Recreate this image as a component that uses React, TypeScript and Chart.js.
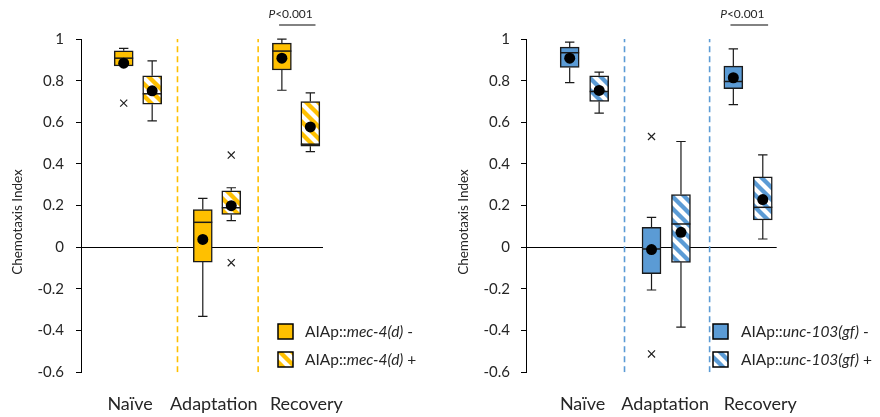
import { useEffect, useRef } from 'react';
import { Chart, registerables } from 'chart.js';

Chart.register(...registerables);

// ---------- data ----------
const categories = ['Naïve', 'Adaptation', 'Recovery'];
const yTicks = [-0.6, -0.4, -0.2, 0, 0.2, 0.4, 0.6, 0.8, 1];
const yTitle = 'Chemotaxis Index';
const pLabel = 'P<0.001';

// each row: [min, q1, median, q3, max] per category
const mecMinusStats = [
  [0.871, 0.871, 0.908, 0.943, 0.955],
  [-0.332, -0.071, 0.12, 0.181, 0.235],
  [0.754, 0.851, 0.942, 0.98, 0.999],
];
const mecMinusMeans = [0.884, 0.038, 0.908];
const mecMinusOutliers = [[0.692], [], []];

const mecPlusStats = [
  [0.607, 0.687, 0.737, 0.823, 0.895],
  [0.128, 0.158, 0.19, 0.271, 0.286],
  [0.459, 0.485, 0.495, 0.7, 0.741],
];
const mecPlusMeans = [0.751, 0.2, 0.578];
const mecPlusOutliers = [[], [0.443, -0.074], []];

const uncMinusStats = [
  [0.791, 0.863, 0.934, 0.961, 0.985],
  [-0.205, -0.127, -0.008, 0.096, 0.144],
  [0.685, 0.761, 0.796, 0.87, 0.953],
];
const uncMinusMeans = [0.908, -0.011, 0.814];
const uncMinusOutliers = [[], [0.532, -0.512], []];

const uncPlusStats = [
  [0.644, 0.7, 0.748, 0.823, 0.841],
  [-0.383, -0.072, 0.112, 0.253, 0.508],
  [0.04, 0.131, 0.192, 0.338, 0.444],
];
const uncPlusMeans = [0.753, 0.072, 0.229];
const uncPlusOutliers = [[], [], []];

// ---------- style / layout ----------
const FONT = 'Lato, "Noto Sans", sans-serif';
const TEXT = '#262626';
const YELLOW = '#FFC000';
const BLUE = '#5B9BD5';
const BOX_OFFSET = 0.18;

type Panel = {
  color: string;
  gene: string;
  minusStats: number[][];
  minusMeans: number[];
  minusOutliers: number[][];
  plusStats: number[][];
  plusMeans: number[];
  plusOutliers: number[][];
  axisWidth: number;
  tickPad: number;
  padRight: number;
  xMin: number;
  xMax: number;
  labelPos: number[];
  separators: number[];
  titleX: number;
  legendX: number;
  textX: number;
};

function makePattern(color: string) {
  const s = 12;
  const c = document.createElement('canvas');
  c.width = s;
  c.height = s;
  const g = c.getContext('2d')!;
  g.fillStyle = '#fff';
  g.fillRect(0, 0, s, s);
  g.strokeStyle = color;
  g.lineWidth = s * 0.36;
  g.lineCap = 'square';
  for (const k of [-s, 0, s]) {
    g.beginPath();
    g.moveTo(k - 2, -2);
    g.lineTo(k + s + 2, s + 2);
    g.stroke();
  }
  return g.createPattern(c, 'repeat')!;
}

const boxPlugin = {
  id: 'boxWhiskers',
  afterDatasetDraw(chart: any, args: any) {
    const ds = chart.data.datasets[args.index];
    if (!ds.stats) return;
    const ctx = chart.ctx as CanvasRenderingContext2D;
    const ys = chart.scales.y;
    ctx.save();
    ctx.strokeStyle = '#1a1a1a';
    args.meta.data.forEach((el: any, i: number) => {
      const [mn, q1, md, q3, mx] = ds.stats[i];
      const x = el.x;
      const hw = el.width / 2;
      const cap = 4.7;
      ctx.lineWidth = 1.2;
      ctx.beginPath();
      if (mx > q3) {
        ctx.moveTo(x, ys.getPixelForValue(q3));
        ctx.lineTo(x, ys.getPixelForValue(mx));
        ctx.moveTo(x - cap, ys.getPixelForValue(mx));
        ctx.lineTo(x + cap, ys.getPixelForValue(mx));
      }
      if (mn < q1) {
        ctx.moveTo(x, ys.getPixelForValue(q1));
        ctx.lineTo(x, ys.getPixelForValue(mn));
        ctx.moveTo(x - cap, ys.getPixelForValue(mn));
        ctx.lineTo(x + cap, ys.getPixelForValue(mn));
      }
      ctx.stroke();
      ctx.lineWidth = 1.5;
      ctx.beginPath();
      ctx.moveTo(x - hw, ys.getPixelForValue(md));
      ctx.lineTo(x + hw, ys.getPixelForValue(md));
      ctx.stroke();
    });
    ctx.restore();
  },
};

function makeAnnotPlugin(p: Panel, pattern: CanvasPattern) {
  return {
    id: 'annot',
    afterDraw(chart: any) {
      const ctx = chart.ctx as CanvasRenderingContext2D;
      const xs = chart.scales.x;
      ctx.save();
      // y title
      ctx.translate(p.titleX, 222);
      ctx.rotate(-Math.PI / 2);
      ctx.font = `13.5px ${FONT}`;
      ctx.fillStyle = TEXT;
      ctx.textAlign = 'center';
      ctx.textBaseline = 'middle';
      ctx.fillText(yTitle, 0, 0);
      ctx.restore();

      // significance bar
      ctx.save();
      ctx.strokeStyle = '#595959';
      ctx.lineWidth = 1.5;
      ctx.beginPath();
      ctx.moveTo(xs.getPixelForValue(2.785), 25);
      ctx.lineTo(xs.getPixelForValue(3.245), 25);
      ctx.stroke();
      ctx.fillStyle = TEXT;
      ctx.textBaseline = 'middle';
      const cx = xs.getPixelForValue(2.93);
      ctx.font = `italic 12px ${FONT}`;
      const w1 = ctx.measureText(pLabel[0]).width;
      ctx.font = `12px ${FONT}`;
      const w2 = ctx.measureText(pLabel.slice(1)).width;
      const sx = cx - (w1 + w2) / 2;
      ctx.font = `italic 12px ${FONT}`;
      ctx.textAlign = 'left';
      ctx.fillText(pLabel[0], sx, 14);
      ctx.font = `12px ${FONT}`;
      ctx.fillText(pLabel.slice(1), sx + w1, 14);
      ctx.restore();

      // legend
      ctx.save();
      const rows = [
        { fill: p.color as any, sign: ' -' },
        { fill: pattern as any, sign: ' +' },
      ];
      rows.forEach((r, i) => {
        const top = 324 + i * 28;
        ctx.fillStyle = r.fill;
        ctx.fillRect(p.legendX, top, 15, 15);
        ctx.strokeStyle = '#000';
        ctx.lineWidth = 1.5;
        ctx.strokeRect(p.legendX, top, 15, 15);
        ctx.fillStyle = TEXT;
        ctx.textBaseline = 'middle';
        ctx.textAlign = 'left';
        let tx = p.textX;
        const ty = top + 8;
        const parts: [string, boolean][] = [
          ['AIAp::', false],
          [p.gene, true],
          [r.sign, false],
        ];
        for (const [t, it] of parts) {
          ctx.font = `${it ? 'italic ' : ''}15.5px ${FONT}`;
          ctx.fillText(t, tx, ty);
          tx += ctx.measureText(t).width;
        }
      });
      ctx.restore();
    },
  };
}

function buildConfig(p: Panel): any {
  const pattern = makePattern(p.color);
  const xsMinus = categories.map((_, i) => i + 1 - BOX_OFFSET);
  const xsPlus = categories.map((_, i) => i + 1 + BOX_OFFSET);
  const boxDs = (xs: number[], stats: number[][], fill: any, label: string) => ({
    type: 'bar',
    label,
    data: xs.map((x, i) => ({ x, y: [stats[i][1], stats[i][3]] })),
    stats,
    backgroundColor: fill,
    borderColor: '#1a1a1a',
    borderWidth: 1.5,
    borderSkipped: false,
    barThickness: 19,
    grouped: false,
    order: 3,
  });
  const meanDs = (xs: number[], means: number[]) => ({
    type: 'scatter',
    data: xs.map((x, i) => ({ x, y: means[i] })),
    pointRadius: 5.5,
    pointBackgroundColor: '#000',
    pointBorderWidth: 0,
    order: 1,
  });
  const outDs = (xs: number[], outs: number[][]) => ({
    type: 'scatter',
    data: xs.flatMap((x, i) => outs[i].map((v) => ({ x, y: v }))),
    pointStyle: 'crossRot',
    pointRadius: 5,
    pointBorderColor: '#222',
    pointBorderWidth: 1.2,
    order: 2,
  });
  const sepDs = p.separators.map((s) => ({
    type: 'line',
    data: [
      { x: s, y: -0.6 },
      { x: s, y: 1 },
    ],
    borderColor: p.color,
    borderWidth: 1.6,
    borderDash: [6, 4],
    pointRadius: 0,
    order: 4,
  }));
  return {
    type: 'bar',
    data: {
      datasets: [
        boxDs(xsMinus, p.minusStats, p.color, `AIAp::${p.gene} -`),
        boxDs(xsPlus, p.plusStats, pattern, `AIAp::${p.gene} +`),
        meanDs(xsMinus, p.minusMeans),
        meanDs(xsPlus, p.plusMeans),
        outDs(xsMinus, p.minusOutliers),
        outDs(xsPlus, p.plusOutliers),
        ...sepDs,
      ],
    },
    options: {
      animation: false,
      responsive: true,
      maintainAspectRatio: false,
      layout: { padding: { top: 39, bottom: 0, left: 0, right: p.padRight } },
      plugins: { legend: { display: false }, tooltip: { enabled: false } },
      scales: {
        x: {
          type: 'linear',
          offset: false,
          min: p.xMin,
          max: p.xMax,
          grid: { display: false, drawTicks: false, offset: false },
          border: { display: false },
          afterBuildTicks: (s: any) => {
            s.ticks = p.labelPos.map((v) => ({ value: v }));
          },
          afterFit: (s: any) => {
            s.height = 44.7;
            s.paddingLeft = 0;
            s.paddingRight = 0;
          },
          ticks: {
            autoSkip: false,
            maxRotation: 0,
            padding: 21,
            color: TEXT,
            font: { family: FONT, size: 18 },
            callback: (_v: any, i: number) => categories[i],
          },
        },
        y: {
          type: 'linear',
          min: -0.6,
          max: 1,
          afterBuildTicks: (s: any) => {
            s.ticks = yTicks.map((v) => ({ value: v }));
          },
          afterFit: (s: any) => {
            s.width = p.axisWidth;
          },
          grid: {
            color: (c: any) => (c.tick && c.tick.value === 0 ? '#000' : 'rgba(0,0,0,0)'),
            tickColor: '#000',
            tickLength: 5,
            lineWidth: 1,
          },
          border: { display: true, color: '#000', width: 1 },
          ticks: {
            padding: p.tickPad,
            color: TEXT,
            font: { family: FONT, size: 15 },
            callback: (v: any) => String(v),
          },
        },
      },
    },
    plugins: [boxPlugin, makeAnnotPlugin(p, pattern)],
  };
}

const leftPanel: Panel = {
  color: YELLOW,
  gene: 'mec-4(d)',
  minusStats: mecMinusStats,
  minusMeans: mecMinusMeans,
  minusOutliers: mecMinusOutliers,
  plusStats: mecPlusStats,
  plusMeans: mecPlusMeans,
  plusOutliers: mecPlusOutliers,
  axisWidth: 81,
  tickPad: 12,
  padRight: 117,
  xMin: 0.28,
  xMax: 3.34,
  labelPos: [0.9, 1.96, 3.13],
  separators: [1.5, 2.52],
  titleX: 17.5,
  legendX: 278,
  textX: 305,
};

const rightPanel: Panel = {
  color: BLUE,
  gene: 'unc-103(gf)',
  minusStats: uncMinusStats,
  minusMeans: uncMinusMeans,
  minusOutliers: uncMinusOutliers,
  plusStats: uncPlusStats,
  plusMeans: uncPlusMeans,
  plusOutliers: uncPlusOutliers,
  axisWidth: 86,
  tickPad: 11,
  padRight: 103.3,
  xMin: 0.286,
  xMax: 3.35,
  labelPos: [0.977, 1.987, 3.15],
  separators: [1.49, 2.53],
  titleX: 23.3,
  legendX: 273,
  textX: 301,
};

function PanelChart({ panel, left }: { panel: Panel; left: number }) {
  const ref = useRef<HTMLCanvasElement>(null);
  useEffect(() => {
    if (!ref.current) return;
    const chart = new Chart(ref.current, buildConfig(panel));
    return () => chart.destroy();
  }, [panel]);
  return (
    <div style={{ position: 'absolute', left, top: 0, width: 440, height: 417 }}>
      <canvas ref={ref} />
    </div>
  );
}

export default function App() {
  return (
    <div style={{ position: 'absolute', left: 0, top: 0, width: 880, height: 417, background: '#fff' }}>
      <PanelChart panel={leftPanel} left={0} />
      <PanelChart panel={rightPanel} left={440} />
    </div>
  );
}
